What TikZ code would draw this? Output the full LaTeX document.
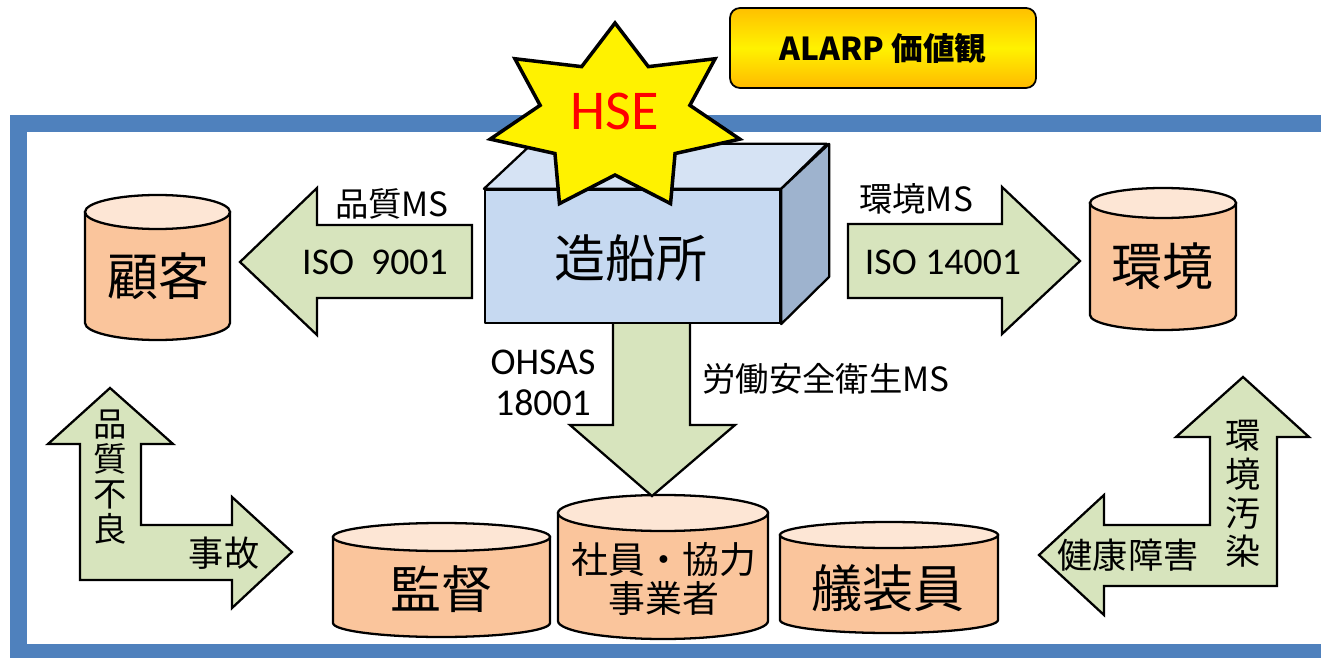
\documentclass[tikz,border=0pt]{standalone}
\usepackage{fontspec}
\setmainfont{Carlito}
\newfontfamily\jp{Noto Sans CJK JP}

\definecolor{framebl}{HTML}{4F81BD}
\definecolor{arrowgr}{HTML}{D7E4BD}
\definecolor{tankbody}{HTML}{FAC59C}
\definecolor{tanktop}{HTML}{FDE6D5}
\definecolor{boxfront}{HTML}{C6D9F1}
\definecolor{boxtop}{HTML}{D6E3F4}
\definecolor{boxside}{HTML}{9EB3CE}
\definecolor{alarpgold}{HTML}{FFC000}
\definecolor{alarpyel}{HTML}{FFF200}

\newcommand\pxl{0.02cm}
% tank: left, right, top, bottom, half height of the lid
\newcommand\drawtank[5]{%
  \filldraw[tankline, fill=tankbody] (#1,#3+#5) -- (#1,#4-#5)
    arc[start angle=180, end angle=0, x radius={(#2-#1)/2}, y radius=#5]
    -- (#2,#3+#5) -- cycle;
  \filldraw[tankline, fill=tanktop] ({(#1+#2)/2},#3+#5)
    ellipse[x radius={(#2-#1)/2}, y radius=#5];
}

\begin{document}
\begin{tikzpicture}[x=0.02cm, y=-0.02cm,
    frame/.style={draw=framebl, line width=0.34cm, fill=white},
    flow/.style={draw, line width=1.3pt, fill=arrowgr, line join=miter},
    tankline/.style={draw, line width=1.3pt},
    face/.style={draw, line width=1.3pt, line join=round},
    big/.style={font=\jp\fontsize{29}{32}\selectfont},
    mid/.style={font=\jp\fontsize{20}{23}\selectfont, align=center},
    lbl/.style={font=\jp\fontsize{19}{21}\selectfont},
    iso/.style={font=\fontsize{21.5}{23}\selectfont, align=center},
  ]
  \useasboundingbox (0,0) rectangle (1321,658);

  % outer frame
  \begin{scope}
    \clip (0,0) rectangle (1321,658);
    \draw[frame] (18.5,123.5) rectangle (1330,652);
  \end{scope}

  % value banner
  \node[draw, line width=1pt, rounded corners=10*\pxl,
        top color=alarpgold, bottom color=alarpgold!90!orange, middle color=alarpyel,
        minimum width=306*\pxl, minimum height=80*\pxl,
        font=\jp\bfseries\fontsize{18}{20}\selectfont] (alarp) at (883,48) {ALARP 価値観};

  % tanks
  \drawtank{85}{230}{195}{340}{17}
  \drawtank{1090}{1236}{188}{330}{15}
  \drawtank{333}{550}{523}{637}{14}
  \drawtank{558}{768}{495}{639}{18}
  \drawtank{780}{998}{522}{633}{13}

  \node[big] (kokyaku) at (158,276) {顧客};
  \node[big] (kankyo) at (1162,266) {環境};
  \node[big] (kantoku) at (441,589) {監督};
  \node[mid, font=\jp\fontsize{21}{22.7}\selectfont] (shain) at (664,579) {社員・協力\\事業者};
  \node[big] (gisou) at (888,588) {艤装員};

  % block arrows
  \filldraw[flow] (472,225) -- (317,225) -- (317,188) -- (240,262) -- (317,335)
    -- (317,298) -- (472,298) -- cycle;
  \filldraw[flow] (848,224) -- (1002,224) -- (1002,187) -- (1080,261) -- (1002,334)
    -- (1002,298) -- (848,298) -- cycle;
  \filldraw[flow] (613,300) -- (690,300) -- (690,425) -- (735,425) -- (652,496)
    -- (570,425) -- (613,425) -- cycle;
  \filldraw[flow] (48,444) -- (110,388) -- (173,444) -- (141,444) -- (141,525)
    -- (232,525) -- (232,497) -- (292,552) -- (232,608) -- (232,580) -- (80,580)
    -- (80,444) -- cycle;
  \filldraw[flow] (1176,437) -- (1243,377) -- (1309,437) -- (1277,437) -- (1277,586)
    -- (1104,586) -- (1104,615) -- (1039,555) -- (1104,495) -- (1104,525)
    -- (1210,525) -- (1210,437) -- cycle;

  \node[iso] (iso9) at (375,262) {ISO\ \ 9001};
  \node[lbl] (iso9-l) at (392,204) {品質MS};
  \node[iso] (iso14) at (943,262) {ISO 14001};
  \node[lbl] (iso14-l) at (916,199) {環境MS};
  \node[iso] (ohsas) at (543,383) {OHSAS\\18001};
  \node[lbl] (ohsas-l) at (826,379) {労働安全衛生MS};
  \node[mid, font=\jp\fontsize{19}{19.8}\selectfont] (furyo) at (110,477) {品\\質\\不\\良};
  \node[mid] (jiko) at (224,553) {事故};
  \node[mid, font=\jp\fontsize{20}{22}\selectfont] (osen) at (1243,494) {環\\境\\汚\\染};
  \node[mid] (kenko) at (1128,555) {健康障害};

  % shipyard block
  \node[face, fill=boxfront, minimum width=295*\pxl, minimum height=133*\pxl,
        inner sep=0pt] (yard) at (632.5,256.5) {};
  \filldraw[face, fill=boxtop] (yard.north west) -- ++(48,-45) -- ++(295,0)
    -- (yard.north east) -- cycle;
  \filldraw[face, fill=boxside] (yard.north east) -- ++(48,-45) -- ++(0,133)
    -- (yard.south east) -- cycle;
  \node[big] (yard-t) at (631,258) {造船所};

  % HSE burst
  \begin{scope}[shift={(615,118)}]
    \filldraw[draw, line width=2pt, fill=yellow, line join=miter]
      (-90:128 and 95) \foreach \k in {1,...,13}{
        -- ({-90+\k*360/14}:{128*(1-0.4*mod(\k,2))} and {95*(1-0.4*mod(\k,2))}) } -- cycle;
  \end{scope}
  \node[font=\fontsize{32}{36}\selectfont, text=red] (hse) at (615,111) {HSE};
\end{tikzpicture}
\end{document}
